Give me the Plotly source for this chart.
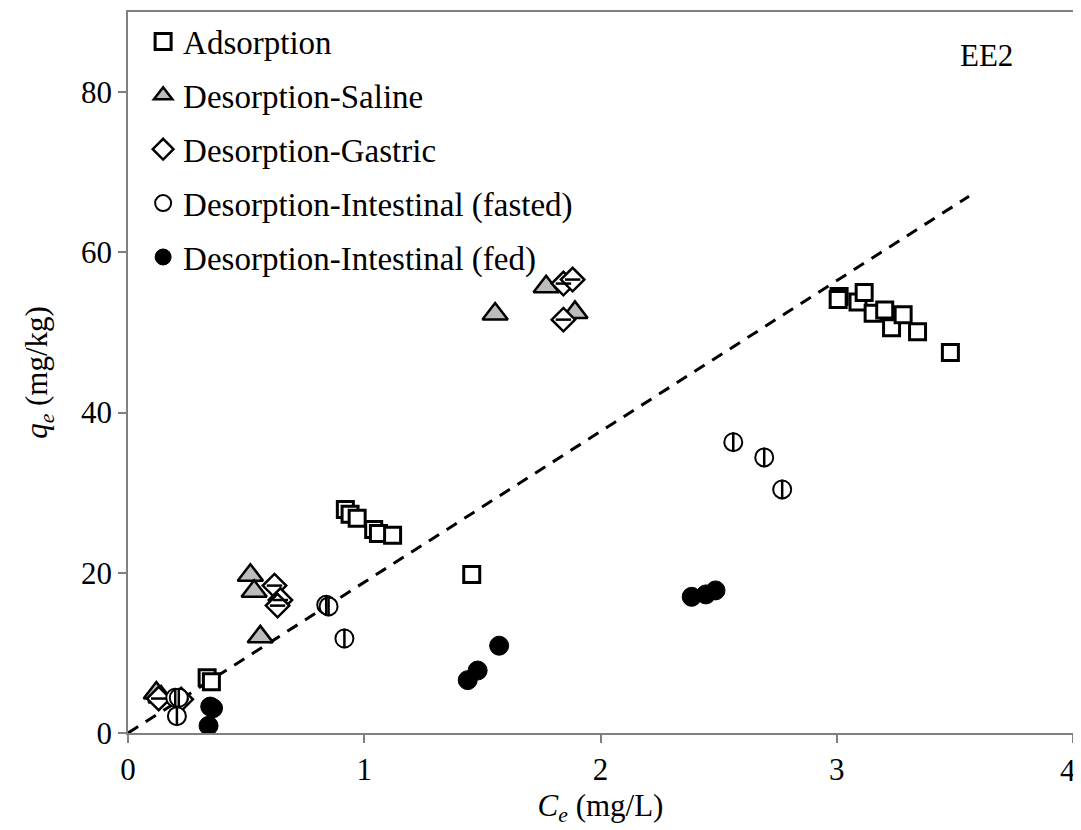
import plotly.graph_objects as go

# ---- data ----
ads_x = [0.335, 0.353, 0.92, 0.94, 0.97, 1.04, 1.06, 1.12, 1.455,
         3.01, 3.006, 3.09, 3.116, 3.154, 3.203, 3.232, 3.281, 3.342, 3.481]
ads_y = [6.9, 6.4, 27.9, 27.3, 26.8, 25.4, 24.9, 24.7, 19.8,
         54.5, 54.1, 53.8, 55.0, 52.4, 52.8, 50.6, 52.2, 50.1, 47.5]

sal_x = [0.12, 0.14, 0.518, 0.534, 0.56, 1.554, 1.77, 1.892]
sal_y = [5.0, 4.5, 19.7, 17.7, 12.0, 52.3, 55.7, 52.5]

gas_x = [0.13, 0.225, 0.62, 0.645, 0.633, 1.843, 1.882, 1.843]
gas_y = [4.3, 4.2, 18.4, 16.6, 15.9, 56.1, 56.6, 51.6]

fast_x = [0.20, 0.215, 0.207, 0.839, 0.849, 0.916, 2.562, 2.693, 2.769]
fast_y = [4.4, 4.4, 2.1, 16.0, 15.8, 11.8, 36.3, 34.4, 30.4]

fed_x = [0.348, 0.36, 0.341, 1.438, 1.48, 1.571, 2.386, 2.446, 2.487]
fed_y = [3.3, 3.1, 0.9, 6.6, 7.8, 10.9, 17.0, 17.3, 17.8]

fit_x = [0.0, 3.56]
fit_y = [0.0, 67.0]

x_ticks = [0, 1, 2, 3, 4]
y_ticks = [0, 20, 40, 60, 80]

FONT = "Liberation Serif"

fig = go.Figure()

fig.add_trace(go.Scatter(x=fit_x, y=fit_y, mode="lines", showlegend=False,
                         legendgroup="fit",
                         line=dict(color="black", width=3, dash="12px,9px")))

fig.add_trace(go.Scatter(x=ads_x, y=ads_y, mode="markers", name="Adsorption",
                         legendgroup="ads",
                         marker=dict(symbol="square", size=16, color="white",
                                     line=dict(color="black", width=3))))

fig.add_trace(go.Scatter(x=sal_x, y=sal_y, mode="markers", name="Desorption-Saline",
                         legendgroup="sal",
                         marker=dict(symbol="triangle-up", size=22, color="#bcbcbc",
                                     line=dict(color="black", width=2.5))))

fig.add_trace(go.Scatter(x=gas_x, y=gas_y, mode="markers", name="Desorption-Gastric",
                         legendgroup="gas",
                         marker=dict(symbol="diamond", size=18, color="white",
                                     line=dict(color="black", width=2.5))))
fig.add_trace(go.Scatter(x=gas_x, y=gas_y, mode="markers", showlegend=False,
                         legendgroup="gas", hoverinfo="skip",
                         marker=dict(symbol="line-ew", size=11,
                                     line=dict(color="black", width=2.5))))

fig.add_trace(go.Scatter(x=fast_x, y=fast_y, mode="markers",
                         name="Desorption-Intestinal (fasted)", legendgroup="fast",
                         marker=dict(symbol="circle", size=18, color="white",
                                     line=dict(color="black", width=2))))
fig.add_trace(go.Scatter(x=fast_x, y=fast_y, mode="markers", showlegend=False,
                         legendgroup="fast", hoverinfo="skip",
                         marker=dict(symbol="line-ns", size=14,
                                     line=dict(color="black", width=2.5))))

fig.add_trace(go.Scatter(x=fed_x, y=fed_y, mode="markers",
                         name="Desorption-Intestinal (fed)", legendgroup="fed",
                         marker=dict(symbol="circle", size=19, color="black",
                                     line=dict(color="black", width=1))))

axis_common = dict(showgrid=False, zeroline=False, showline=True, mirror=True,
                   linecolor="#808080", linewidth=1.5, ticks="outside",
                   ticklen=8, tickcolor="#808080", tickwidth=1.5, automargin=False,
                   tickfont=dict(family=FONT, size=31, color="black"))

# the last x label would sit on the window edge, so it is drawn as an annotation nudged inside
x_text = [str(v) for v in x_ticks]
x_text[-1] = ""

fig.update_xaxes(range=[0, 4], tickvals=x_ticks, ticktext=x_text,
                 title=dict(text="<i>C</i><sub><i>e</i></sub> (mg/L)",
                            font=dict(family=FONT, size=31, color="black"),
                            standoff=8),
                 **axis_common)
fig.update_yaxes(range=[0, 90], tickvals=y_ticks, ticktext=[str(v) for v in y_ticks],
                 title=dict(text="<i>q</i><sub><i>e</i></sub> (mg/kg)",
                            font=dict(family=FONT, size=31, color="black"),
                            standoff=24),
                 **axis_common)

fig.add_annotation(x=x_ticks[-1], y=0, xref="x", yref="paper", text=str(x_ticks[-1]),
                   showarrow=False, xanchor="center", yanchor="middle",
                   xshift=-5, yshift=-37,
                   font=dict(family=FONT, size=31, color="black"))

fig.add_annotation(x=0.939, y=0.94, xref="paper", yref="paper", text="EE2",
                   showarrow=False, xanchor="right", yanchor="middle",
                   font=dict(family=FONT, size=31, color="black"))

# page body has an 8px margin, so the figure is offset by 8px
fig.update_layout(
    width=1073, height=822,
    margin=dict(l=120, r=8, t=4, b=97),
    paper_bgcolor="white", plot_bgcolor="white",
    showlegend=True,
    legend=dict(x=0.016, y=0.998, xanchor="left", yanchor="top",
                bgcolor="rgba(0,0,0,0)", font=dict(family=FONT, size=33, color="black"),
                traceorder="grouped", tracegroupgap=8),
)

fig.write_html("out.html")
